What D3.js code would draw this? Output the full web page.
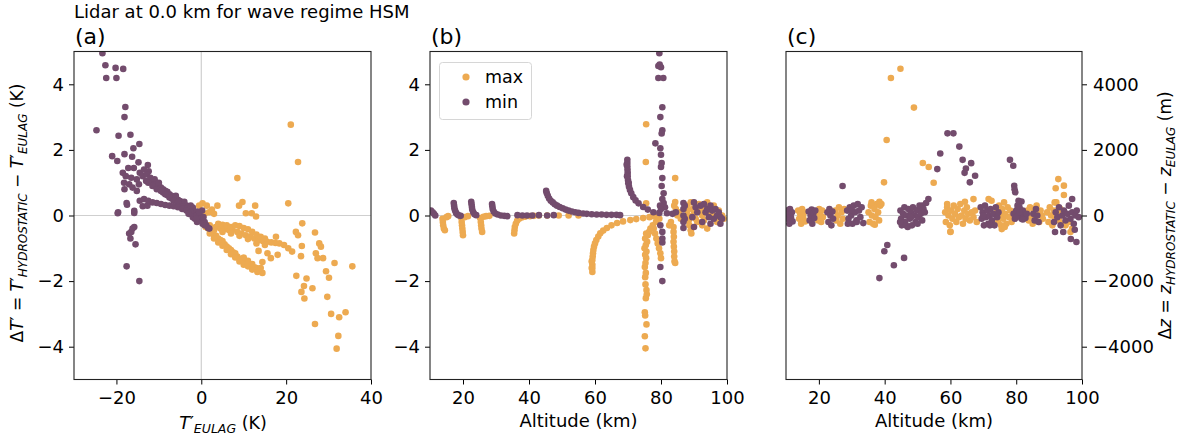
<!DOCTYPE html>
<html>
<head>
<meta charset="utf-8">
<script src="https://cdn.jsdelivr.net/npm/d3@7"></script>
<style>
  body { margin: 0; background: #fff; }
  svg { font-family: "DejaVu Sans", sans-serif; }
</style>
</head>
<body>
<svg id="chart" width="1179" height="441"></svg>
<script>
// panel (a): T'_EULAG (K) vs dT' (K)
var aMax = [
  [8.5,1.14],[21.1,2.77],[22.8,1.63],[20.5,0.37],[9.7,0.41],[8.9,0.3],[12.7,0.3],[10.5,0.07],[11.9,0.07],
  [0.3,0.37],[-0.5,0.3],[1.3,0.3],[3.8,0.3],[2.5,0.18],[0.8,0.05],[1.8,0.1],[3,0.05],
  [0.5,-0.25],[1.5,-0.38],[2.5,-0.5],[3.5,-0.62],[4.5,-0.75],[5.5,-0.88],[6.5,-1.0],[7.5,-1.12],[8.5,-1.25],
  [9.5,-1.35],[10.5,-1.42],[11.5,-1.5],[12.5,-1.58],[13.5,-1.68],[14.4,-1.75],[3,-0.6],[5,-0.78],[7,-1.05],
  [9,-1.32],[11,-1.38],[13,-1.6],[12,-1.65],[10,-1.28],[8,-1.15],[6,-0.95],[4,-0.7],[2,-0.45],
  [1,-0.35],[2,-0.55],[3,-0.7],[4,-0.82],[5,-0.92],[6,-1.05],[7,-1.18],[8,-1.28],[9,-1.4],[10,-1.5],
  [11,-1.55],[12,-1.48],[13.2,-1.72],[14,-1.6],
  [2,-0.3],[3.4,-0.35],[4.5,-0.4],[5.5,-0.42],[6.5,-0.44],[7.3,-0.44],[8.5,-0.5],[9.5,-0.55],[10.5,-0.6],
  [11.5,-0.65],[12.5,-0.7],[13.6,-0.75],[14.5,-0.78],[15.5,-0.8],[16.5,-0.82],[17.5,-0.84],[18.4,-0.85],
  [19.5,-0.9],[20.5,-1.0],[21.4,-1.1],
  [4,-0.25],[5,-0.28],[6,-0.3],[7,-0.35],[8,-0.3],[9,-0.32],[10,-0.38],[11,-0.42],[12,-0.5],[13,-0.58],
  [14,-0.65],[15,-0.7],[3,-0.45],[5,-0.5],[7,-0.55],[9,-0.62],[11,-0.72],[13,-0.85],[15,-0.9],
  [12.9,-0.03],[23.8,-0.24],[22.3,-0.5],[26.8,-0.52],[22.8,-0.6],[23.7,-0.93],[27.8,-0.85],[28.2,-0.95],
  [27,-1.15],[27.4,-1.3],[28.7,-1.3],[23.5,-1.24],[17.6,-0.65],[18,-1.2],[15.6,-1.15],[14.4,-1.42],
  [16.4,-1.3],[13.5,-1.08],[31.4,-1.45],[35.6,-1.55],[22.4,-1.84],[24.8,-1.92],[26.2,-2.22],[24.2,-2.15],
  [23.6,-2.33],[24.3,-2.53],[29.4,-1.7],[30.1,-1.9],[29.7,-2.48],[30.6,-3.0],[32.5,-3.1],[34,-2.95],
  [26.8,-3.31],[32.3,-3.67],[31.9,-4.06]
];
var aMin = [
  [-23.3,4.95],[-22.6,4.58],[-22.4,4.19],[-20.2,4.5],[-20.0,4.19],[-18.4,4.47],[-24.7,2.6],[-17.9,3.31],
  [-18.1,3.0],[-19.5,2.43],[-16.7,2.46],[-16.0,2.05],[-14.6,2.18],[-21.0,1.81],[-19.8,1.66],[-18.1,1.87],
  [-16.3,1.79],[-12.6,1.54],[-14.8,1.62],
  [-18.5,1.3],[-17.8,1.2],[-17.2,1.45],[-16.5,1.15],[-15.9,1.45],[-15.2,1.1],[-14.5,1.3],[-13.8,1.2],
  [-18.2,1.0],[-17.0,0.95],[-16.2,0.85],[-14.7,0.95],[-13.0,1.05],[-12.4,1.35],[-18.1,0.8],[-15.2,0.75],
  [-17.6,0.38],[-17.5,0.33],[-15.8,0.14],[-19.6,0.1],[-13.8,0.28],[-12.7,0.3],
  [-19.7,0.07],[-15.8,0.08],[-16.5,-0.5],[-16.7,-0.7],[-15.8,-0.35],[-16.2,-0.4],[-15.5,-0.88],
  [-17.6,-1.55],[-14.6,-2.0],[-17.0,-0.55],
  [-13.5,1.4],[-12.8,1.25],[-12,1.15],[-11.5,1.05],[-11,1.1],[-10.5,0.95],[-10,0.9],[-9.5,0.85],[-9,0.8],
  [-8.5,0.75],[-8,0.72],[-7.5,0.65],[-7,0.6],[-6.5,0.58],[-6,0.52],[-5.5,0.48],[-5,0.44],[-4.5,0.38],
  [-4,0.34],[-3.5,0.3],[-3,0.26],[-2.5,0.2],[-2,0.16],[-1.5,0.1],[-1,0.05],[-0.5,0],
  [-11,0.95],[-10,1.0],[-9,0.7],[-8,0.62],[-7,0.52],[-6,0.6],[-5,0.36],[-4,0.42],[-3,0.18],[-2,0.24],[-1,0.12],
  [-12.5,1.0],[-11.5,0.9],[-10.5,0.8],[-9.5,0.75],[-8.5,0.65],[-7.5,0.55],[-6.5,0.45],[-5.5,0.4],
  [-4.5,0.28],[-3.5,0.22],[-2.5,0.05],[-1.5,0.0],
  [-14.5,0.45],[-13.5,0.5],[-12.5,0.45],[-11.5,0.4],[-10.5,0.38],[-9.5,0.35],[-8.5,0.32],[-7.5,0.3],
  [-6.5,0.28],[-5.5,0.25],[-4.5,0.2],[-3.5,0.15],[-2.5,0.1],
  [-2,-0.05],[-1.5,-0.1],[-1,0],[-0.5,-0.15],[0,-0.1],[0.3,-0.25],[0.8,-0.2],[1.2,-0.3],[1.6,-0.38],
  [0.5,-0.05],[-1,-0.2],[1.9,-0.4],[-3,0.05],[-2.5,0.3],[0.2,0.15],[-0.5,0.1],[0.8,-0.3],[-1.2,-0.1]
];

// panel (b): altitude (km) vs dT' (K)
var bMax = [
  [13.8,-0.1],[13.9,-0.2],[14.0,-0.3],[14.2,-0.4],[14.5,-0.45],[15,-0.05],[15.5,-0.02],
  [19.5,-0.08],[19.6,-0.2],[19.7,-0.3],[19.8,-0.4],[19.9,-0.5],[20,-0.6],[20.5,-0.05],[21.5,-0.02],
  [25.2,-0.08],[25.4,-0.2],[25.5,-0.3],[25.6,-0.4],[25.8,-0.5],[26.2,-0.04],[27,-0.02],[28,-0.01],
  [35.5,-0.55],[35.6,-0.45],[35.7,-0.35],[36,-0.25],[36.4,-0.16],[37,-0.1],[37.8,-0.06],[38.8,-0.04],
  [40.3,-0.02],[41.5,-0.01],[43,0],[45.5,0.0],[49,0],[52,0],[55,0],
  [59.2,-1.72],[59.2,-1.6],[59.2,-1.5],[59.2,-1.36],[59.3,-1.25],[59.4,-1.15],[59.5,-1.05],[59.7,-0.95],
  [60,-0.85],[60.4,-0.75],[61,-0.64],[61.6,-0.54],[62.5,-0.46],[63.6,-0.38],[65,-0.3],[66.7,-0.23],
  [68.5,-0.18],[70.7,-0.14],[72.5,-0.11],[74.6,-0.08],[76.5,-0.05],[78,-0.03],[59,-1.6],[59,-1.4],
  [75.3,-4.05],[75.1,-3.68],[75.6,-3.32],[75.2,-3.05],[75.1,-2.95],[75.4,-2.52],[75.7,-2.4],[75.6,-2.27],
  [75.3,-2.1],[75.2,-1.88],[75.4,-1.75],[75.1,-1.57],[75.3,-1.45],[75.5,-1.3],[75.2,-1.2],[75.6,-1.1],
  [75,-1],[75.4,-0.9],[75.8,-0.8],[75.2,-0.7],[76,-0.6],[75.5,-0.55],[76.4,-0.5],[76.8,-0.4],[77.5,-0.3],
  [78.5,-0.2],[79.5,-0.1],
  [77.8,-0.4],[78.2,-0.55],[78.6,-0.7],[79,-0.85],[79.4,-1.0],[79.8,-1.15],[80,-1.3],
  [83.8,-0.35],[83.8,-0.5],[83.9,-0.65],[83.8,-0.8],[83.9,-0.95],[84,-1.1],[84,-1.25],[84.1,-1.4],
  [84.3,-1.45],[82.5,-0.3],[83,-0.2],
  [75.5,2.78],[75.4,1.63],[75.5,0.37],[84.3,1.14],[84.3,0.41],[84,0.3],
  [84.5,0.2],[85,0],[85.5,0.1],[86,-0.1],[87.8,0.3],[88,0.15],[88.2,0],[88.4,-0.15],[88.6,-0.3],[89,-0.45],
  [89.2,-0.55],[89,0.4],[89.5,0.2],[90,0.05],[90.5,-0.1],[91,-0.2],[91.5,0.35],[92,0.15],[92.5,0],
  [93,-0.15],[93.5,0.25],[94,0.4],[94.5,0.1],[95.5,0.05],[96,0.3],[96.5,-0.05],[97,-0.2],[97.5,0.15],
  [98.5,0],[99,-0.1],[94,-0.4],[92.5,-0.3]
];
var bMin = [
  [10.3,0.15],[10.8,0.1],[11.2,0.05],[11.6,0],
  [17.2,0.38],[17.3,0.3],[17.4,0.22],[17.6,0.15],[17.9,0.08],[18.3,0.03],[18.8,0],[19.3,-0.01],
  [22.5,0.42],[22.6,0.34],[22.7,0.26],[22.8,0.18],[23.1,0.1],[23.5,0.04],[24,0.01],
  [28.8,0.35],[28.9,0.28],[29.0,0.2],[29.3,0.12],[29.8,0.06],[30.5,0.03],[31.5,0],[32.5,-0.01],[33.4,-0.02],
  [36.5,0.01],[38,0],[39.4,0],[41,0],[43,0.01],[45.5,0],[47.5,0.01],
  [45.2,0.75],[45.4,0.68],[45.7,0.6],[46.1,0.52],[46.6,0.45],[47.2,0.4],[47.8,0.34],[48.5,0.3],[49.3,0.26],
  [50.2,0.22],[51.1,0.18],[52,0.15],[53,0.12],[54,0.1],[55,0.08],[56.4,0.06],[57.5,0.05],[59,0.04],
  [60.5,0.03],[62,0.03],[63.5,0.02],[65,0.02],[66.5,0.02],[67.6,0.01],
  [69.8,1.7],[69.8,1.6],[69.8,1.5],[69.85,1.4],[69.9,1.3],[69.9,1.2],[70,1.08],[70.1,0.98],[70.3,0.88],
  [70.6,0.78],[71,0.68],[71.6,0.56],[72.3,0.46],[73.2,0.37],[74.6,0.26],[76,0.18],[77.7,0.1],[79.5,0.08],
  [81.8,0.07],[69.6,1.55],[69.7,1.2],[70.2,1.0],
  [79.5,4.95],[79.2,4.56],[79.6,4.6],[80,4.52],[79.2,4.19],[80.7,4.19],[80.4,3.3],[79.8,3.0],[80.4,2.6],
  [80.2,2.5],[78.3,2.2],[79.8,2.05],[80,1.85],[80.2,1.6],[80,1.48],[80.4,1.14],[80.2,0.9],[80.8,0.68],
  [80.4,0.5],[80.8,0.38],[81.2,0.25],[79.7,0.3],[80,0.2],
  [79.8,-0.3],[80.4,-0.5],[80.4,-0.7],[80.4,-0.82],[79.8,-1.57],[80.4,-2.0],
  [86.8,0.38],[86.8,0.2],[86.8,0],[86.8,-0.2],[86.8,-0.38],[87.2,0.3],[87.2,-0.1],[90,0.4],[90.5,0.25],
  [91,0.1],[89.5,-0.05],[92,0.3],[93,0.35],[93.5,0.1],[94,0.2],[94.5,-0.05],[95,0.3],[95.5,0.15],[96,-0.1],
  [96.5,0.2],[97,0],[97.5,0.1],[98,-0.05],[98.5,-0.1],[92.5,-0.2],[90,-0.35],[95,-0.25],[98,-0.25],
  [84.5,0.1],[83.5,0.05]
];

// panel (c): altitude (km) vs dz (m)
var cMax = [
  [13.7,150],[14,-100],[14.3,50],[14.6,-250],[14.9,200],[15.2,-50],[15.5,100],[15.8,-180],
  [19.5,100],[19.8,-150],[20.1,200],[20.4,0],[20.7,-200],[21,150],[21.2,-50],
  [25,150],[25.3,-150],[25.7,0],[26.1,250],[26.5,-250],[26.9,100],[27.3,-100],[27.7,200],
  [35.1,100],[35.4,-200],[35.8,300],[36.1,0],[36.5,-250],[36.9,200],[37.2,-50],[37.6,350],[38,100],
  [38.3,-150],[38.6,300],[36,400],[37,-280],
  [58.4,100],[58.6,-200],[59,250],[59.4,0],[59.8,-300],[60.2,150],[60.6,-100],[61,300],[61.4,50],
  [61.8,-200],[62.2,200],[62.6,-50],[63,350],[63.4,0],[63.8,-250],[64.2,150],[64.6,-100],[65,250],
  [65.4,50],[65.9,-150],[60,-490],[59,350],
  [66.5,100],[67,-50],[67.5,150],[68,-200],
  [74.2,150],[74.5,-200],[74.8,300],[75.1,0],[75.4,-300],[75.7,200],[76,-100],[76.3,400],[76.6,50],
  [77,-250],[77.4,250],[77.8,-50],[78.2,150],[78.6,-200],[79,50],[75.6,-414],[76.5,-350],
  [83.4,150],[83.8,-150],[84.2,250],[84.6,0],[85,-250],[85.4,200],[85.8,-50],[86.2,300],[86.6,100],
  [87,-200],[87.4,150],[87.8,0],[88.1,-100],
  [89.4,100],[89.8,-200],[90.2,250],[90.6,0],[91,-300],[91.4,150],[91.8,-100],[92.2,400],[92.6,50],
  [93,-150],[93.4,200],[93.8,-250],[94.2,100],[95,-300],[96,-200],[96.5,-505],[97,-400],
  [41.9,4190],[44.8,4475],[48.9,3290],[40.6,2300],[39.8,1010],[38.4,420],[39,350],[51.6,1600],
  [53.4,1480],[54.9,1000],[64.4,420],[67,500],[71.6,500],[72.5,450],[92,830],[92.8,1110],[94.5,910],
  [94.5,626],[91.7,400],[60,-505]
];
var cMin = [
  [27.2,900],[53.3,505],[56,1414],[56.9,1889],[59.1,2505],[60.9,2505],[62.7,2101],[63.7,1697],[64.7,1434],
  [64.3,1300],[66.3,1596],[65.9,1010],[67.5,1212],[78.1,1697],[79.1,1515],[79.4,909],[79.7,707],[79.5,800],
  [81.6,424],[97,505],[51.5,300],[50.5,200],[38.4,-1909],[39.9,-1091],[40.8,-899],[42.8,-1515],
  [45.9,-1293],[33.5,-232],[91.8,-505],[94.3,-505],[96.6,-717],[98.3,-808],[97.8,-434],
  [10.3,150],[10.5,-100],[10.8,50],[11,-250],[11.2,200],[11.5,-50],[11.8,100],[12,-180],
  [16.9,120],[17.2,-150],[17.5,0],[17.8,180],[18,-250],[18.3,60],[18.6,-80],[18.9,150],
  [22.6,100],[22.9,-200],[23.2,200],[23.5,0],[23.8,-300],[24.1,120],[24.3,-100],
  [28.6,150],[29,-100],[29.4,250],[29.8,0],[30.2,-250],[30.6,300],[31,100],[31.4,-150],[31.8,350],
  [32.2,150],[32.6,-50],[33,250],[30,150],[31.5,-200],[28.8,-250],
  [44.8,150],[45,-100],[45.2,-300],[45.6,50],[46,250],[46.2,-200],[46.6,0],[47,-350],[47.2,200],
  [47.6,-100],[48,100],[48.3,-300],[48.6,250],[49,0],[49.4,-200],[49.8,150],[50.2,-50],[50.6,300],
  [51,50],[51.4,-150],[51.8,200],[52.2,100],[52.6,380],[46.5,-300],[48,-50],[50,-250],[44.7,-200],
  [69.2,250],[69.5,-100],[69.8,100],[70.2,-300],[70.5,300],[70.8,-50],[71.2,150],[71.5,-250],[71.8,0],
  [72.2,200],[72.6,-150],[73,50],[73.4,-300],[73.8,250],[74.2,-50],[74.6,100],[70,0],[72,-300],
  [79.2,50],[79.6,-100],[80,150],[80.4,300],[80.7,450],[81,250],[81.3,50],[81.6,-100],[82,150],
  [82.4,0],[82.8,-80],[83.2,50],[80,-50],[81,100],[82,-120],
  [85.2,50],[85.6,-150],[86,200],[86.4,0],[86.8,-200],
  [91.5,-200],[92,100],[92.5,-50],[93,250],[93.5,-300],[94,0],[94.5,150],[95,-150],[95.5,50],[96,300],
  [96.5,-100],[97,100],[97.5,-250],[98,0],[98.4,150],[99,-50]
];

var tTicks = [-20, 0, 20, 40],
    altTicks = [20, 40, 60, 80, 100],
    dtTicks = [-4, -2, 0, 2, 4],
    dzTicks = [-4000, -2000, 0, 2000, 4000],
    seriesNames = ["max", "min"];

var colMax = "#edaa51",
    colMin = "#734c6d";

var svg = d3.select("#chart"),
    yTop = 51.5, yBottom = 379.5,
    fs = 18;

function fmt(d) { return d < 0 ? "\u2212" + Math.abs(d) : "" + d; }

function panel(opt) {
  var x = d3.scaleLinear().domain(opt.xd).range([opt.x0, opt.x1]);
  var y = d3.scaleLinear().domain(opt.yd).range([yBottom, yTop]);
  var g = svg.append("g");

  // zero lines
  g.append("line")
      .attr("x1", opt.x0).attr("x2", opt.x1)
      .attr("y1", y(0)).attr("y2", y(0))
      .attr("stroke", "#cfcfcf").attr("stroke-width", 1.2);
  if (opt.vzero) {
    g.append("line")
        .attr("x1", x(0)).attr("x2", x(0))
        .attr("y1", yTop).attr("y2", yBottom)
        .attr("stroke", "#cfcfcf").attr("stroke-width", 1.2);
  }

  // points, max first so min sits on top
  var clip = "clip-" + opt.name;
  g.append("clipPath").attr("id", clip).append("rect")
      .attr("x", opt.x0).attr("y", yTop)
      .attr("width", opt.x1 - opt.x0).attr("height", yBottom - yTop);
  var pts = g.append("g").attr("clip-path", "url(#" + clip + ")");
  [[opt.max, colMax], [opt.min, colMin]].forEach(function(s) {
    pts.append("g").selectAll("circle")
        .data(s[0])
      .enter().append("circle")
        .attr("cx", function(d) { return x(d[0]); })
        .attr("cy", function(d) { return y(d[1]); })
        .attr("r", 3.3)
        .attr("fill", s[1]);
  });

  // axes
  var xa = g.append("g")
      .attr("transform", "translate(0," + yBottom + ")")
      .call(d3.axisBottom(x).tickValues(opt.xt).tickFormat(fmt).tickSize(5).tickSizeOuter(0).tickPadding(7));
  var ya;
  if (opt.right) {
    ya = g.append("g")
        .attr("transform", "translate(" + opt.x1 + ",0)")
        .call(d3.axisRight(y).tickValues(opt.yt).tickFormat(fmt).tickSize(5).tickSizeOuter(0).tickPadding(6));
  } else {
    ya = g.append("g")
        .attr("transform", "translate(" + opt.x0 + ",0)")
        .call(d3.axisLeft(y).tickValues(opt.yt).tickFormat(fmt).tickSize(5).tickSizeOuter(0).tickPadding(5));
  }
  [xa, ya].forEach(function(a) {
    a.select(".domain").remove();
    a.selectAll("text").attr("font-size", fs).attr("fill", "#000").attr("font-family", "DejaVu Sans");
    a.selectAll("line").attr("stroke", "#000").attr("stroke-width", 1);
  });

  // frame
  g.append("rect")
      .attr("x", opt.x0).attr("y", yTop)
      .attr("width", opt.x1 - opt.x0).attr("height", yBottom - yTop)
      .attr("fill", "none").attr("stroke", "#222").attr("stroke-width", 1.1);

  // panel letter
  g.append("text")
      .attr("x", opt.x0 + 1).attr("y", 44)
      .attr("font-size", 22)
      .text("(" + opt.name + ")");

  return {x: x, y: y, g: g};
}

var pa = panel({name: "a", x0: 74, x1: 371, xd: [-30, 40], yd: [-5, 5], xt: tTicks, yt: dtTicks,
                vzero: true, max: aMax, min: aMin});
var pb = panel({name: "b", x0: 430, x1: 727, xd: [10, 100], yd: [-5, 5], xt: altTicks, yt: dtTicks,
                max: bMax, min: bMin});
var pc = panel({name: "c", x0: 786, x1: 1082, xd: [10, 100], yd: [-5000, 5000], xt: altTicks, yt: dzTicks,
                right: true, max: cMax, min: cMin});

// title
svg.append("text")
    .attr("x", 74).attr("y", 18)
    .attr("font-size", fs)
    .text("Lidar at 0.0 km for wave regime HSM");

// axis labels with sub/superscripts
function mathLabel(sel, parts) {
  parts.forEach(function(p) {
    var t = sel.append("tspan").text(p.t);
    if (p.i) t.attr("font-style", "italic");
    if (p.s) t.attr("font-size", p.s);
    if (p.dy) t.attr("dy", p.dy);
  });
}

var xlab = svg.append("text")
    .attr("x", 223).attr("y", 429)
    .attr("text-anchor", "middle").attr("font-size", 17.5);
mathLabel(xlab, [
  {t: "T", i: true}, {t: "\u2032"},
  {t: "EULAG", i: true, s: 12.5, dy: 4},
  {t: " (K)", dy: -4}
]);

[578.5, 934].forEach(function(cx) {
  svg.append("text")
      .attr("x", cx).attr("y", 427)
      .attr("text-anchor", "middle").attr("font-size", fs)
      .text("Altitude (km)");
});

var ylab = svg.append("text")
    .attr("transform", "translate(23,213) rotate(-90)")
    .attr("text-anchor", "middle").attr("font-size", 17);
mathLabel(ylab, [
  {t: "\u0394"}, {t: "T", i: true}, {t: "\u2032 = "},
  {t: "T", i: true}, {t: "\u2032"},
  {t: "HYDROSTATIC", i: true, s: 12, dy: 4},
  {t: " \u2212 ", dy: -4},
  {t: "T", i: true}, {t: "\u2032"},
  {t: "EULAG", i: true, s: 12, dy: 4},
  {t: " (K)", dy: -4}
]);

var zlab = svg.append("text")
    .attr("transform", "translate(1171,215.5) rotate(-90)")
    .attr("text-anchor", "middle").attr("font-size", 17);
mathLabel(zlab, [
  {t: "\u0394"}, {t: "z", i: true}, {t: " = "},
  {t: "z", i: true},
  {t: "HYDROSTATIC", i: true, s: 12, dy: 4},
  {t: " \u2212 ", dy: -4},
  {t: "z", i: true},
  {t: "EULAG", i: true, s: 12, dy: 4},
  {t: " (m)", dy: -4}
]);

// legend in panel (b)
var leg = svg.append("g");
leg.append("rect")
    .attr("x", 439.5).attr("y", 62.5).attr("width", 92).attr("height", 57)
    .attr("rx", 3).attr("fill", "#fff").attr("fill-opacity", 0.8)
    .attr("stroke", "#d6d6d6").attr("stroke-width", 1);
seriesNames.forEach(function(n, i) {
  leg.append("circle")
      .attr("cx", 466).attr("cy", 77 + i * 25).attr("r", 3.6)
      .attr("fill", i == 0 ? colMax : colMin);
  leg.append("text")
      .attr("x", 485).attr("y", 83 + i * 25)
      .attr("font-size", 17.5)
      .text(n);
});
</script>
</body>
</html>
